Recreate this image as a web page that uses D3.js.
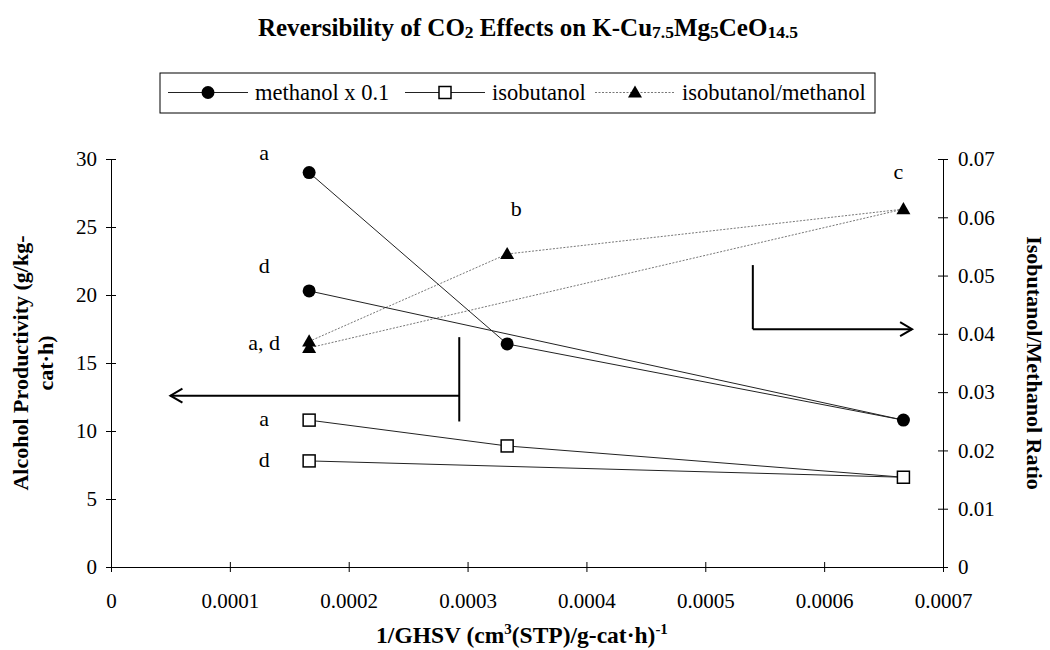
<!DOCTYPE html>
<html>
<head>
<meta charset="utf-8">
<script src="https://cdn.jsdelivr.net/npm/d3@7"></script>
<style>
  body { margin: 0; background: #fff; }
  svg text { font-family: "Liberation Serif", "Times New Roman", serif !important; }
</style>
</head>
<body>
<div id="chart"></div>
<script>
// data
var invGhsv = [0.0001667, 0.0003333, 0.0006667, 0.0001667];
var pointTags = ["a", "b", "c", "d"];
var methanolX01 = [29.0, 16.4, 10.8, 20.3];
var isobutanol = [10.8, 8.9, 6.6, 7.8];
var ratio = [0.0387, 0.0537, 0.0614, 0.0376];

var xTicks = [0, 0.0001, 0.0002, 0.0003, 0.0004, 0.0005, 0.0006, 0.0007];
var yLeftTicks = [0, 5, 10, 15, 20, 25, 30];
var yRightTicks = [0, 0.01, 0.02, 0.03, 0.04, 0.05, 0.06, 0.07];

var seriesNames = ["methanol x 0.1", "isobutanol", "isobutanol/methanol"];

(function() {
  var W = 1050, H = 650;
  var margin = { top: 159, left: 111, right: 107, bottom: 83 },
    width = W - margin.left - margin.right,
    height = H - margin.top - margin.bottom;

  var root = d3.select("#chart")
    .append("svg")
    .attr("width", W)
    .attr("height", H)
    .style("background", "#fff");

  var svg = root.append("g")
    .attr("transform", "translate(" + margin.left + "," + margin.top + ")");

  var x = d3.scaleLinear().domain([0, 0.0007]).range([0, width]);
  var yL = d3.scaleLinear().domain([0, 30]).range([height, 0]);
  var yR = d3.scaleLinear().domain([0, 0.07]).range([height, 0]);

  /* axes, Excel style ticks crossing the line */
  var xAxis = svg.append("g")
    .attr("class", "axis")
    .attr("transform", "translate(0," + height + ")")
    .call(d3.axisBottom(x).tickValues(xTicks).tickSize(5).tickPadding(21)
      .tickFormat(function(d) { return d === 0 ? "0" : d3.format(".4f")(d) }))
  xAxis.selectAll(".tick line").attr("y1", -5)

  var leftAxis = svg.append("g")
    .attr("class", "axis")
    .call(d3.axisLeft(yL).tickValues(yLeftTicks).tickSize(5).tickPadding(9))
  leftAxis.selectAll(".tick line").attr("x1", 5)

  var rightAxis = svg.append("g")
    .attr("class", "axis")
    .attr("transform", "translate(" + width + ",0)")
    .call(d3.axisRight(yR).tickValues(yRightTicks).tickSize(5).tickPadding(10)
      .tickFormat(function(d) { return d === 0 ? "0" : d3.format(".2f")(d) }))
  rightAxis.selectAll(".tick line").attr("x1", -5)

  svg.selectAll(".axis").attr("font-family", null).attr("font-size", null)
  svg.selectAll(".axis path").attr("stroke", "#000").attr("stroke-width", 1)
  svg.selectAll(".axis .tick line").attr("stroke", "#000")
  svg.selectAll(".axis text")
    .style("font-size", "21px")
    .attr("fill", "#000")

  /* series */
  var methPts = invGhsv.map(function(v, i) { return { x: v, y: yL(methanolX01[i]) } })
  var isoPts = invGhsv.map(function(v, i) { return { x: v, y: yL(isobutanol[i]) } })
  var ratioPts = invGhsv.map(function(v, i) { return { x: v, y: yR(ratio[i]) } })

  var line = d3.line()
    .x(function(d) { return x(d.x) })
    .y(function(d) { return d.y })

  svg.append("path").datum(ratioPts)
    .attr("d", line).attr("fill", "none")
    .attr("stroke", "#777").attr("stroke-width", 1).attr("stroke-dasharray", "2,1.5")
  svg.append("path").datum(methPts)
    .attr("d", line).attr("fill", "none")
    .attr("stroke", "#222").attr("stroke-width", 1)
  svg.append("path").datum(isoPts)
    .attr("d", line).attr("fill", "none")
    .attr("stroke", "#222").attr("stroke-width", 1)

  var tri = d3.symbol().type(d3.symbolTriangle).size(85)

  svg.selectAll(".meth")
    .data(methPts)
    .enter().append("circle")
    .attr("class", "meth")
    .attr("cx", function(d) { return x(d.x) })
    .attr("cy", function(d) { return d.y })
    .attr("r", 6.5)
    .attr("fill", "#000")

  svg.selectAll(".iso")
    .data(isoPts)
    .enter().append("rect")
    .attr("class", "iso")
    .attr("x", function(d) { return x(d.x) - 6 })
    .attr("y", function(d) { return d.y - 6 })
    .attr("width", 12)
    .attr("height", 12)
    .attr("fill", "#fff")
    .attr("stroke", "#000")
    .attr("stroke-width", 1.5)

  svg.selectAll(".ratio")
    .data(ratioPts)
    .enter().append("path")
    .attr("class", "ratio")
    .attr("d", tri)
    .attr("transform", function(d) { return "translate(" + x(d.x) + "," + (d.y + 1) + ")" })
    .attr("fill", "#000")

  /* point tags */
  var tagStyle = function(sel) {
    sel.style("font-size", "22px").attr("fill", "#000").attr("text-anchor", "middle")
  }
  // methanol a and d
  ;[0, 3].forEach(function(i) {
    svg.append("text").call(tagStyle)
      .attr("x", x(invGhsv[i]) - 45)
      .attr("y", methPts[i].y - (i === 0 ? 13 : 18))
      .text(pointTags[i])
  })
  // isobutanol a and d
  ;[0, 3].forEach(function(i) {
    svg.append("text").call(tagStyle)
      .attr("x", x(invGhsv[i]) - 45)
      .attr("y", isoPts[i].y + 6)
      .text(pointTags[i])
  })
  svg.append("text").call(tagStyle)
    .attr("text-anchor", "end")
    .attr("x", x(invGhsv[0]) - 29)
    .attr("y", (ratioPts[0].y + ratioPts[3].y) / 2 + 5)
    .text(pointTags[0] + ", " + pointTags[3])
  svg.append("text").call(tagStyle)
    .attr("x", x(invGhsv[1]) + 9)
    .attr("y", ratioPts[1].y - 38)
    .text(pointTags[1])
  svg.append("text").call(tagStyle)
    .attr("x", x(invGhsv[2]) - 5)
    .attr("y", ratioPts[2].y - 30)
    .text(pointTags[2])

  /* arrows pointing at each axis */
  var arrowG = svg.append("g").attr("stroke", "#000").attr("stroke-width", 2).attr("fill", "none")
  var lx = x(0.000293), ly = yL(12.6), lx2 = x(0.00005)
  arrowG.append("line").attr("x1", lx).attr("x2", lx).attr("y1", yL(16.9)).attr("y2", yL(10.7))
  arrowG.append("line").attr("x1", lx).attr("x2", lx2).attr("y1", ly).attr("y2", ly)
  arrowG.append("path").attr("d", "M" + (lx2 + 12) + "," + (ly - 7) + "L" + lx2 + "," + ly + "L" + (lx2 + 12) + "," + (ly + 7))
  var rx = x(0.00054), ry = yR(0.0408), rx2 = x(0.000674)
  arrowG.append("line").attr("x1", rx).attr("x2", rx).attr("y1", yR(0.0518)).attr("y2", ry)
  arrowG.append("line").attr("x1", rx).attr("x2", rx2).attr("y1", ry).attr("y2", ry)
  arrowG.append("path").attr("d", "M" + (rx2 - 12) + "," + (ry - 7) + "L" + rx2 + "," + ry + "L" + (rx2 - 12) + "," + (ry + 7))

  /* axis titles */
  var leftTitle = root.append("text")
    .attr("transform", "translate(32," + (margin.top + height / 2) + ") rotate(-90)")
    .attr("text-anchor", "middle")
    .attr("font-weight", "bold")
    .style("font-size", "22px")
  leftTitle.append("tspan").attr("x", 0).attr("dy", -4).text("Alcohol Productivity (g/kg-")
  leftTitle.append("tspan").attr("x", 0).attr("dy", 25).text("cat\u00b7h)")

  root.append("text")
    .attr("transform", "translate(1027," + (margin.top + height / 2) + ") rotate(90)")
    .attr("text-anchor", "middle")
    .attr("font-weight", "bold")
    .style("font-size", "22px")
    .text("Isobutanol/Methanol Ratio")

  var xTitle = root.append("text")
    .attr("x", margin.left + width / 2 - 5)
    .attr("y", 643)
    .attr("text-anchor", "middle")
    .attr("font-weight", "bold")
    .style("font-size", "23.5px")
  xTitle.append("tspan").text("1/GHSV (cm")
  xTitle.append("tspan").style("font-size", "15px").attr("dy", -9).text("3")
  xTitle.append("tspan").attr("dy", 9).text("(STP)/g-cat\u00b7h)")
  xTitle.append("tspan").style("font-size", "15px").attr("dy", -9).text("-1")

  /* title */
  var title = root.append("text")
    .attr("x", 528)
    .attr("y", 36)
    .attr("text-anchor", "middle")
    .attr("font-weight", "bold")
    .style("font-size", "25px")
  title.append("tspan").text("Reversibility of CO")
  title.append("tspan").style("font-size", "17.5px").attr("dy", 2).text("2")
  title.append("tspan").attr("dy", -2).text(" Effects  on K-Cu")
  title.append("tspan").style("font-size", "17.5px").attr("dy", 2).text("7.5")
  title.append("tspan").attr("dy", -2).text("Mg")
  title.append("tspan").style("font-size", "17.5px").attr("dy", 2).text("5")
  title.append("tspan").attr("dy", -2).text("CeO")
  title.append("tspan").style("font-size", "17.5px").attr("dy", 2).text("14.5")

  /* legend */
  var legend = root.append("g").attr("transform", "translate(160,73)")
  legend.append("rect")
    .attr("width", 715).attr("height", 40)
    .attr("fill", "#fff").attr("stroke", "#000").attr("stroke-width", 1)
  var legX = [8, 245, 435]
  var legW = [80, 80, 80]
  legX.forEach(function(lxp, i) {
    var g = legend.append("g").attr("transform", "translate(" + lxp + ",19.5)")
    g.append("line").attr("x1", 0).attr("x2", legW[i]).attr("y1", 0).attr("y2", 0)
      .attr("stroke", i === 2 ? "#777" : "#222").attr("stroke-width", 1)
      .attr("stroke-dasharray", i === 2 ? "2,1.5" : null)
    var cx = legW[i] / 2
    if (i === 0) g.append("circle").attr("cx", cx).attr("cy", 0).attr("r", 6.5).attr("fill", "#000")
    if (i === 1) g.append("rect").attr("x", cx - 6).attr("y", -6).attr("width", 12).attr("height", 12)
      .attr("fill", "#fff").attr("stroke", "#000").attr("stroke-width", 1.5)
    if (i === 2) g.append("path").attr("d", tri).attr("transform", "translate(" + cx + ",1)").attr("fill", "#000")
    g.append("text").attr("x", legW[i] + 7).attr("y", 7).style("font-size", "22.5px").text(seriesNames[i])
  })
})();
</script>
</body>
</html>
